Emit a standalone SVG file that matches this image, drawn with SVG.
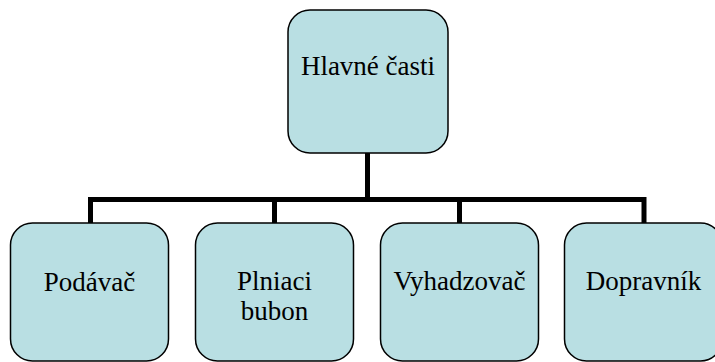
<svg xmlns="http://www.w3.org/2000/svg" width="715" height="362" viewBox="0 0 715 362">
<style>
.box{fill:#b9dfe3;stroke:#000;stroke-width:1.5}
.lbl{font-family:'Liberation Serif','Times New Roman',serif;font-size:27px;fill:#000;text-anchor:middle}
.conn{fill:none;stroke:#000;stroke-width:5;stroke-linecap:butt;stroke-linejoin:miter}
</style>
<g id="connectors">
<path class="conn" d="M367.5 153 V199.5 M90.5 223 V199.5 H644 V223 M274.5 199.5 V223 M459.5 199.5 V223"/>
</g>
<g id="hlavne">
<rect class="box" x="288" y="10" width="160" height="143" rx="22"/>
<text class="lbl" x="368" y="75">Hlavné časti</text>
</g>
<g id="podavac">
<rect class="box" x="10.5" y="223" width="158" height="138" rx="22"/>
<text class="lbl" x="89.5" y="291">Podávač</text>
</g>
<g id="plniaci">
<rect class="box" x="195.5" y="223" width="158" height="138" rx="22"/>
<text class="lbl" x="274.5" y="290">Plniaci</text>
<text class="lbl" x="274.5" y="320">bubon</text>
</g>
<g id="vyhadzovac">
<rect class="box" x="380.5" y="223" width="158" height="138" rx="22"/>
<text class="lbl" x="459.5" y="290">Vyhadzovač</text>
</g>
<g id="dopravnik">
<rect class="box" x="564.5" y="223" width="158" height="138" rx="22"/>
<text class="lbl" x="643.5" y="290">Dopravník</text>
</g>
</svg>
